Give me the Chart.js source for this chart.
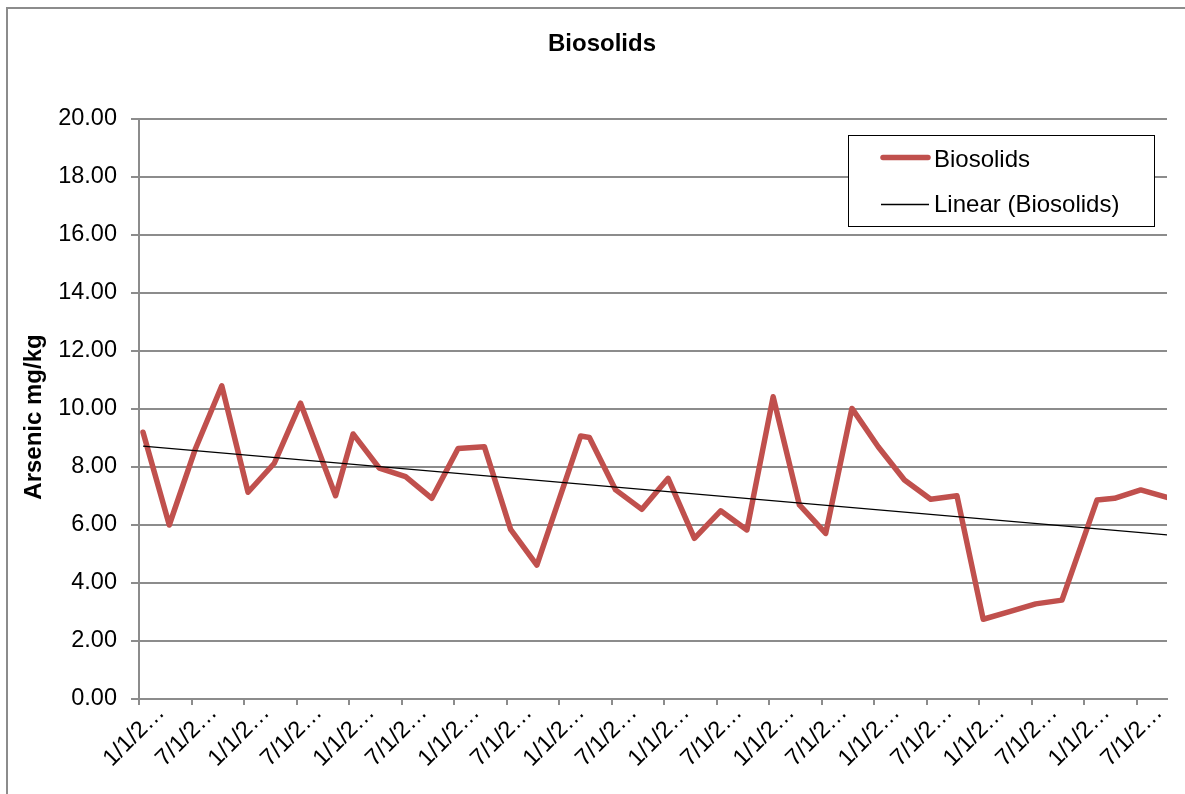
<!DOCTYPE html>
<html>
<head>
<meta charset="utf-8">
<title>Biosolids</title>
<script src="https://cdn.jsdelivr.net/npm/chart.js@4.4.1/dist/chart.umd.min.js"></script>
<style>
  html, body { margin: 0; padding: 0; background: #fff; }
  canvas { display: block; }
</style>
</head>
<body>
<canvas id="arsenicChart" width="1185" height="794"></canvas>
<script>
// Biosolids - arsenic (mg/kg) sampling history, Excel-style line chart + linear trend

// sample dates and arsenic values
const sampleDates = [
  '2000-01-15', '2000-04-15', '2000-07-15', '2000-10-15',
  '2001-01-15', '2001-04-15', '2001-07-15', '2001-11-15',
  '2002-01-15', '2002-04-15', '2002-07-15', '2002-10-15',
  '2003-01-15', '2003-04-15', '2003-07-15', '2003-10-15',
  '2004-03-15', '2004-04-15', '2004-07-15', '2004-10-15',
  '2005-01-15', '2005-04-15', '2005-07-15', '2005-10-15',
  '2006-01-15', '2006-04-15', '2006-07-15', '2006-10-15',
  '2007-01-15', '2007-04-15', '2007-07-15', '2007-10-15',
  '2008-01-15', '2008-04-15', '2008-07-15', '2008-10-15',
  '2009-02-15', '2009-04-15', '2009-07-15', '2009-10-15'
];
const arsenic = [
  9.20, 6.00, 8.64, 10.80,
  7.13, 8.13, 10.20, 7.01,
  9.14, 7.96, 7.67, 6.92,
  8.64, 8.70, 5.85, 4.62,
  9.07, 9.02, 7.21, 6.54,
  7.61, 5.54, 6.49, 5.83,
  10.42, 6.69, 5.71, 10.02,
  8.70, 7.55, 6.89, 7.01,
  2.75, 3.01, 3.28, 3.41,
  6.86, 6.92, 7.21, 6.95
];
// linear trendline, start / end values as drawn
const trendEnds = [8.72, 5.66];

// axis labels (Excel truncated them)
const xTickLabels = [
  '1/1/2…', '7/1/2…', '1/1/2…', '7/1/2…', '1/1/2…', '7/1/2…', '1/1/2…', '7/1/2…', '1/1/2…', '7/1/2…',
  '1/1/2…', '7/1/2…', '1/1/2…', '7/1/2…', '1/1/2…', '7/1/2…', '1/1/2…', '7/1/2…', '1/1/2…', '7/1/2…'
];
const yMin = 0, yMax = 20, yStep = 2;

// colours
const red = '#C0504D';
const gridGray = '#8c8c8c';
const font = '"Liberation Sans", Arial, sans-serif';

// months since 1/1/2000, used as the x value (no date adapter here)
function monthsOf(s) {
  const [y, m, d] = s.split('-').map(Number);
  return (y - 2000) * 12 + (m - 1) + (d - 1) / 30.4;
}
const xs = sampleDates.map(monthsOf);
const points = xs.map((x, i) => ({ x: x, y: arsenic[i] }));
const trend = [{ x: xs[0], y: trendEnds[0] }, { x: xs[xs.length - 1], y: trendEnds[1] }];

// frame, title, y title and legend box drawn like Excel does
const decor = {
  id: 'decor',
  beforeDraw(chart) {
    const ctx = chart.ctx;
    ctx.save();
    ctx.strokeStyle = gridGray;
    ctx.lineWidth = 2;
    ctx.strokeRect(7, 8, 1400, 1000);
    ctx.restore();
  },
  afterDraw(chart) {
    const ctx = chart.ctx;
    ctx.save();
    ctx.fillStyle = '#000';
    ctx.textBaseline = 'alphabetic';
    ctx.font = 'bold 24px ' + font;
    ctx.textAlign = 'center';
    ctx.fillText('Biosolids', 602, 51);

    ctx.save();
    ctx.translate(41, 417);
    ctx.rotate(-Math.PI / 2);
    ctx.fillText('Arsenic mg/kg', 0, 0);
    ctx.restore();

    // legend
    ctx.fillStyle = '#fff';
    ctx.fillRect(848, 135, 306, 92);
    ctx.strokeStyle = '#000';
    ctx.lineWidth = 1;
    ctx.strokeRect(848.5, 135.5, 306, 91);

    ctx.strokeStyle = red;
    ctx.lineWidth = 5.5;
    ctx.lineCap = 'round';
    ctx.beginPath();
    ctx.moveTo(883, 157.5);
    ctx.lineTo(928, 157.5);
    ctx.stroke();

    ctx.strokeStyle = '#000';
    ctx.lineWidth = 1.3;
    ctx.lineCap = 'butt';
    ctx.beginPath();
    ctx.moveTo(881, 204.5);
    ctx.lineTo(929, 204.5);
    ctx.stroke();

    ctx.fillStyle = '#000';
    ctx.font = '24px ' + font;
    ctx.textAlign = 'left';
    ctx.fillText('Biosolids', 934, 166.5);
    ctx.fillText('Linear (Biosolids)', 934, 211.5);
    ctx.restore();
  }
};

new Chart(document.getElementById('arsenicChart'), {
  type: 'line',
  data: {
    datasets: [{
      label: 'Biosolids',
      data: points,
      borderColor: red,
      backgroundColor: red,
      borderWidth: 5.5,
      borderJoinStyle: 'round',
      borderCapStyle: 'round',
      pointRadius: 0,
      tension: 0,
      order: 1
    }, {
      label: 'Linear (Biosolids)',
      data: trend,
      borderColor: '#000',
      borderWidth: 1.3,
      pointRadius: 0,
      order: 0
    }]
  },
  options: {
    responsive: false,
    animation: false,
    layout: { padding: { top: 119, right: 18, left: 0, bottom: 0 } },
    plugins: {
      legend: { display: false },
      title: { display: false },
      tooltip: { enabled: false }
    },
    scales: {
      x: {
        type: 'linear',
        min: 0,
        max: xs[xs.length - 1],
        afterFit: s => { s.height = 95; },
        afterBuildTicks: s => { s.ticks = xTickLabels.map((_, i) => ({ value: i * 6 })); },
        ticks: {
          autoSkip: false,
          minRotation: 45,
          maxRotation: 45,
          labelOffset: 22,
          padding: -6,
          color: '#000',
          font: { family: font, size: 23.5 },
          callback: (v, i) => xTickLabels[i]
        },
        grid: { drawOnChartArea: false, drawTicks: true, tickLength: 6, color: gridGray, lineWidth: 2 },
        border: { color: gridGray, width: 2 }
      },
      y: {
        min: yMin,
        max: yMax,
        afterFit: s => { s.width = 139; },
        ticks: {
          stepSize: yStep,
          padding: 14,
          color: '#000',
          font: { family: font, size: 23.5 },
          callback: v => v.toFixed(2)
        },
        grid: { color: gridGray, lineWidth: 2, tickLength: 8 },
        border: { color: gridGray, width: 2 }
      }
    }
  },
  plugins: [decor]
});
</script>
</body>
</html>
